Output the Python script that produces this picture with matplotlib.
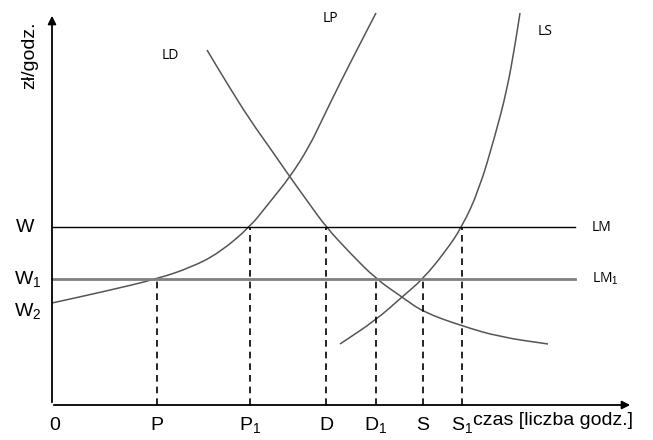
import numpy as np
import matplotlib
matplotlib.use('Agg')
import matplotlib.pyplot as plt
from matplotlib.path import Path
from matplotlib.patches import PathPatch

plt.rcParams['font.family'] = ['Liberation Sans', 'DejaVu Sans']
plt.rcParams['mathtext.fontset'] = 'custom'
plt.rcParams['mathtext.rm'] = 'Liberation Sans'
plt.rcParams['mathtext.it'] = 'Liberation Sans'

# poziomy płac
W = 178
W1 = 126
W2 = 102

# krzywe (czas, płaca)
lp_x = [0, 50, 105, 140, 167, 198, 217, 238, 257, 270, 288, 310, 324]
lp_y = [102, 113, 126, 138, 152, 178, 202, 228, 258, 285, 322, 365, 392]

ld_x = [155, 176, 198, 218, 238, 256, 274, 298, 324, 350, 371, 410, 448, 496]
ld_y = [355, 320, 285, 257, 228, 203, 178, 152, 126, 108, 93, 79, 68, 61]

ls_x = [288, 324, 350, 371, 393, 410, 427, 443, 455, 463, 468]
ls_y = [61, 85, 108, 126, 153, 178, 215, 269, 315, 360, 392]

# punkty na osi czasu
x_names = ['P', 'P$_1$', 'D', 'D$_1$', 'S', 'S$_1$']
x_pos = [105, 198, 274, 324, 371, 410]
x_lev = [W1, W, W, W1, W1, W]


def smooth_curve(ax, xs, ys, **kw):
    # gładka krzywa: punkty jako węzły kontrolne krzywych Beziera
    pts = np.column_stack([xs, ys]).astype(float)
    mids = (pts[:-1] + pts[1:]) / 2
    verts = [pts[0], mids[0]]
    codes = [Path.MOVETO, Path.LINETO]
    for i in range(1, len(pts) - 1):
        verts += [pts[i], mids[i]]
        codes += [Path.CURVE3, Path.CURVE3]
    verts.append(pts[-1])
    codes.append(Path.LINETO)
    ax.add_patch(PathPatch(Path(verts, codes), fill=False, **kw))


fig = plt.figure(figsize=(6.53, 4.40), dpi=100)
ax = fig.add_axes([0, 0, 1, 1])
ax.set_xlim(-52, 601)
ax.set_ylim(-35, 405)
ax.axis('off')

# osie
ax.annotate('', xy=(0, 392), xytext=(0, 0),
            arrowprops=dict(arrowstyle='-|>', color='black', lw=1.3, mutation_scale=12))
ax.annotate('', xy=(581, 0), xytext=(-1, 0),
            arrowprops=dict(arrowstyle='-|>', color='black', lw=1.3, mutation_scale=12))

# linie płacy
ax.plot([0, 523], [W, W], color='black', lw=1)
ax.plot([0, 523], [W1, W1], color='#808080', lw=2)

for xs, ys in [(lp_x, lp_y), (ld_x, ld_y), (ls_x, ls_y)]:
    smooth_curve(ax, xs, ys, edgecolor='#555555', lw=1.1)

for xp, lev in zip(x_pos, x_lev):
    ax.plot([xp, xp], [0, lev], color='black', lw=1.2, ls=(0, (4, 3)))

fs = 14
for name, xp in zip(x_names, x_pos):
    ax.text(xp, -20, name, ha='center', va='center', fontsize=fs)
ax.text(3, -20, '0', ha='center', va='center', fontsize=fs)
ax.text(421, -15, 'czas [liczba godz.]', ha='left', va='center', fontsize=fs)

ax.text(-27, W, 'W', ha='center', va='center', fontsize=fs)
ax.text(-24, W1, 'W$_1$', ha='center', va='center', fontsize=fs)
ax.text(-24, W2 - 8, 'W$_2$', ha='center', va='center', fontsize=fs)
ax.text(-22, 350, 'zł/godz.', ha='center', va='center', fontsize=fs, rotation=90)

cfs = 10
cfam = ['Open Sans', 'DejaVu Sans']
ax.text(118, 350, 'LD', ha='center', va='center', fontsize=cfs, family=cfam)
ax.text(278, 387, 'LP', ha='center', va='center', fontsize=cfs, family=cfam)
ax.text(493, 374, 'LS', ha='center', va='center', fontsize=cfs, family=cfam)
ax.text(540, W, 'LM', ha='left', va='center', fontsize=cfs, family=cfam)
ax.text(540, W1, 'LM$_1$', ha='left', va='center', fontsize=cfs, family=cfam)

fig.savefig('out.png', dpi=100)
